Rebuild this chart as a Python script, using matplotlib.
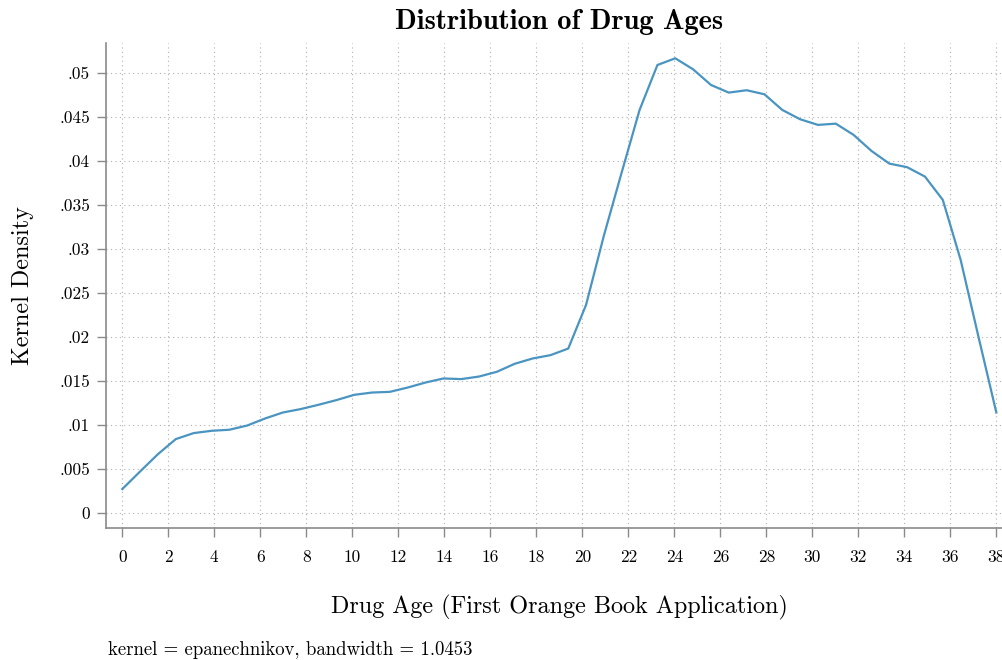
import numpy as np
import matplotlib.pyplot as plt

# kernel density estimate, 50 evaluation points from 0 to 38
ages = np.linspace(0, 38, 50)
density = [0.00273, 0.00473, 0.00670, 0.00841, 0.00909, 0.00935, 0.00947, 0.00995,
           0.01075, 0.01143, 0.01182, 0.01231, 0.01284, 0.01344, 0.01370, 0.01378,
           0.01427, 0.01484, 0.01530, 0.01523, 0.01552, 0.01606, 0.01697, 0.01757,
           0.01795, 0.01870, 0.02367, 0.03155, 0.03875, 0.04583, 0.05094, 0.05170,
           0.05045, 0.04867, 0.04780, 0.04807, 0.04761, 0.04583, 0.04477, 0.04413,
           0.04427, 0.04299, 0.04117, 0.03973, 0.03932, 0.03825, 0.03560, 0.02878,
           0.02003, 0.01143]

xticks = np.arange(0, 39, 2)
yticks = np.arange(0, 0.0501, 0.005)
ylabels = ['0', '.005', '.01', '.015', '.02', '.025', '.03', '.035', '.04', '.045', '.05']

plt.rcParams['font.family'] = 'cmr10'
plt.rcParams['mathtext.fontset'] = 'cm'

W, H = 1003, 660
fig = plt.figure(figsize=(W / 100, H / 100), dpi=100)
ax = fig.add_axes([106 / W, (H - 528) / H, (W - 106) / W, (528 - 43) / H])

ax.plot(ages, density, color='#4a94c1', lw=1.6)

ax.set_xlim(-0.709, 38.29)
ax.set_ylim(-0.0017, 0.05344)
ax.set_xticks(xticks)
ax.set_xticklabels([str(t) for t in xticks])
ax.set_yticks(yticks)
ax.set_yticklabels(ylabels)

ax.grid(True, ls=(0, (1, 3)), color='#b0b0b0', lw=0.8)
ax.set_axisbelow(True)
for s in ['top', 'right']:
    ax.spines[s].set_visible(False)
for s in ['left', 'bottom']:
    ax.spines[s].set_color('#8a8a8a')
    ax.spines[s].set_linewidth(1.2)
ax.tick_params(axis='both', colors='#8a8a8a', length=6.5, width=1.0, labelcolor='black', labelsize=12.5)
ax.tick_params(axis='x', pad=9)
ax.tick_params(axis='y', pad=5)

fig.text(559 / W, 1 - 22 / H, 'Distribution of Drug Ages', ha='center', va='center',
         fontsize=20.5, family='cmb10')
fig.text(23 / W, 1 - 286 / H, 'Kernel Density', rotation=90, ha='center', va='center', fontsize=17.4)
fig.text(559 / W, 1 - 607 / H, 'Drug Age (First Orange Book Application)', ha='center', va='center',
         fontsize=17.4)
fig.text(108 / W, 1 - 650 / H, 'kernel = epanechnikov, bandwidth = 1.0453', ha='left', va='center',
         fontsize=13.5)

fig.savefig('out.png', dpi=100)
